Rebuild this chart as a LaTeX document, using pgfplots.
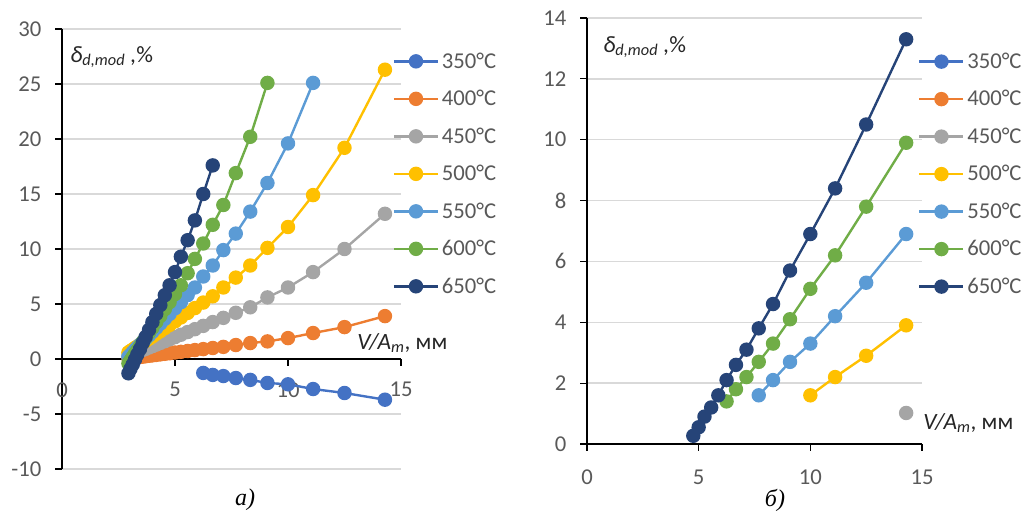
\documentclass[border=0pt]{standalone}
\usepackage{fontspec}
\setmainfont{Carlito}
\newfontfamily\capfont{Liberation Serif}
\usepackage{pgfplots}
\pgfplotsset{compat=1.18}

\definecolor{c350}{HTML}{4472C4}
\definecolor{c400}{HTML}{ED7D31}
\definecolor{c450}{HTML}{A5A5A5}
\definecolor{c500}{HTML}{FFC000}
\definecolor{c550}{HTML}{5B9BD5}
\definecolor{c600}{HTML}{70AD47}
\definecolor{c650}{HTML}{264478}
\definecolor{gridgray}{HTML}{D9D9D9}
\definecolor{textgray}{HTML}{595959}
\definecolor{labelgray}{HTML}{262626}

\pgfplotsset{
  ser/.style={line width=1.8pt, mark=*, mark size=4.5pt, mark options={solid}},
  excel/.style={
    scale only axis,
    xmin=0, xmax=15, xtick={0,5,10,15},
    axis x line*=middle, axis y line*=left,
    hide obscured x ticks=false, hide obscured y ticks=false,
    ymajorgrids, grid style={gridgray, line width=1pt},
    tick align=outside, major tick length=5pt,
    tick style={black, line width=0.9pt},
    axis line style={black, line width=1pt},
    tick label style={font=\fontsize{17}{19}\selectfont, text=textgray},
    /pgf/number format/assume math mode=true,
    yticklabel style={xshift=-7pt},
    legend cell align=left,
    legend style={draw=none, fill=none, inner sep=0pt, anchor=north west,
      font=\fontsize{17}{19}\selectfont, text=textgray, row sep=11pt,
      /tikz/every even column/.append style={column sep=1pt}},
    legend image code/.code={\draw[mark repeat=2,mark phase=2,#1]
      plot coordinates {(0pt,0pt) (16.5pt,0pt) (33pt,0pt)};},
  }
}

\begin{document}
\begin{tikzpicture}
\path[use as bounding box] (0,0) rectangle (776.25pt,390.75pt);

% а) full range
\begin{axis}[excel, at={(46.5pt,39pt)}, anchor=south west,
  width=254.25pt, height=330pt,
  ymin=-10, ymax=30, ytick={-10,-5,...,30},
  xticklabel style={yshift=-9pt},
  legend style={at={(0.975,0.953)}}]
\addplot[ser,c350] coordinates {(6.25,-1.27)(6.67,-1.45)(7.14,-1.55)(7.69,-1.73)(8.33,-1.9)(9.09,-2.18)(10,-2.3)(11.11,-2.73)(12.5,-3.09)(14.29,-3.7)};
\addlegendentry{350°C}
\addplot[ser,c400] coordinates {(2.94,0.05)(3.03,0.07)(3.13,0.1)(3.23,0.13)(3.33,0.15)(3.45,0.18)(3.57,0.21)(3.70,0.25)(3.85,0.29)(4.00,0.33)(4.17,0.37)(4.35,0.42)(4.55,0.47)(4.76,0.52)(5.00,0.59)(5.26,0.65)(5.56,0.73)(5.88,0.81)(6.25,0.9)(6.67,1.0)(7.14,1.1)(7.69,1.27)(8.33,1.45)(9.09,1.6)(10,1.9)(11.11,2.36)(12.5,2.9)(14.29,3.9)};
\addlegendentry{400°C}
\addplot[ser,c450] coordinates {(2.94,0.3)(3.03,0.37)(3.13,0.46)(3.23,0.54)(3.33,0.62)(3.45,0.72)(3.57,0.82)(3.70,0.92)(3.85,1.05)(4.00,1.17)(4.17,1.31)(4.35,1.46)(4.55,1.62)(4.76,1.79)(5.00,1.99)(5.26,2.2)(5.56,2.45)(5.88,2.71)(6.25,3.01)(6.67,3.36)(7.14,3.74)(7.69,4.2)(8.33,4.7)(9.09,5.6)(10,6.5)(11.11,7.9)(12.5,10.0)(14.29,13.2)};
\addlegendentry{450°C}
\addplot[ser,c500] coordinates {(2.94,0.6)(3.03,0.72)(3.13,0.86)(3.23,1.0)(3.33,1.13)(3.45,1.3)(3.57,1.46)(3.70,1.64)(3.85,1.85)(4.00,2.05)(4.17,2.29)(4.35,2.53)(4.55,2.81)(4.76,3.09)(5.00,3.42)(5.26,3.78)(5.56,4.19)(5.88,4.63)(6.25,5.13)(6.67,5.7)(7.14,6.5)(7.69,7.4)(8.33,8.5)(9.09,10.1)(10,12.0)(11.11,14.9)(12.5,19.2)(14.29,26.3)};
\addlegendentry{500°C}
\addplot[ser,c550] coordinates {(2.94,0.2)(3.03,0.39)(3.13,0.61)(3.23,0.82)(3.33,1.03)(3.45,1.29)(3.57,1.55)(3.70,1.83)(3.85,2.15)(4.00,2.47)(4.17,2.83)(4.35,3.22)(4.55,3.65)(4.76,4.09)(5.00,4.61)(5.26,5.16)(5.56,5.81)(5.88,6.5)(6.25,7.5)(6.67,8.5)(7.14,9.9)(7.69,11.4)(8.33,13.4)(9.09,16.0)(10,19.6)(11.11,25.1)};
\addlegendentry{550°C}
\addplot[ser,c600] coordinates {(2.94,-0.4)(3.03,-0.12)(3.13,0.18)(3.23,0.49)(3.33,0.79)(3.45,1.16)(3.57,1.53)(3.70,1.93)(3.85,2.38)(4.00,2.84)(4.17,3.36)(4.35,3.91)(4.55,4.53)(4.76,5.17)(5.00,5.9)(5.26,6.7)(5.56,7.8)(5.88,9.1)(6.25,10.5)(6.67,12.2)(7.14,14.0)(7.69,16.9)(8.33,20.2)(9.09,25.1)};
\addlegendentry{600°C}
\addplot[ser,c650] coordinates {(2.94,-1.3)(3.03,-0.9)(3.13,-0.5)(3.23,-0.05)(3.33,0.4)(3.45,0.9)(3.57,1.45)(3.70,2.0)(3.85,2.65)(4.00,3.35)(4.17,4.1)(4.35,4.9)(4.55,5.8)(4.76,6.7)(5.00,7.9)(5.26,9.3)(5.56,10.8)(5.88,12.6)(6.25,15.0)(6.67,17.6)};
\addlegendentry{650°C}
\end{axis}

% б) zoomed range
\begin{axis}[excel, at={(440.25pt,57.75pt)}, anchor=south west,
  width=251.25pt, height=319.5pt,
  ymin=0, ymax=14, ytick={0,2,...,14},
  xticklabel style={yshift=-11pt},
  legend style={at={(0.988,0.925)}}]
\addlegendimage{ser,c350}
\addlegendentry{350°C}
\addlegendimage{ser,c400}
\addlegendentry{400°C}
\addplot[ser,c450] coordinates {(14.29,1.02)};
\addlegendentry{450°C}
\addplot[ser,c500] coordinates {(10,1.6)(11.11,2.2)(12.5,2.9)(14.29,3.9)};
\addlegendentry{500°C}
\addplot[ser,c550] coordinates {(7.69,1.6)(8.33,2.1)(9.09,2.7)(10,3.3)(11.11,4.2)(12.5,5.3)(14.29,6.9)};
\addlegendentry{550°C}
\addplot[ser,c600] coordinates {(6.25,1.4)(6.67,1.8)(7.14,2.2)(7.69,2.7)(8.33,3.3)(9.09,4.1)(10,5.1)(11.11,6.2)(12.5,7.8)(14.29,9.9)};
\addlegendentry{600°C}
\addplot[ser,c650] coordinates {(4.76,0.27)(5,0.55)(5.26,0.9)(5.56,1.2)(5.88,1.6)(6.25,2.1)(6.67,2.6)(7.14,3.1)(7.69,3.8)(8.33,4.6)(9.09,5.7)(10,6.9)(11.11,8.4)(12.5,10.5)(14.29,13.3)};
\addlegendentry{650°C}
\end{axis}

\begin{scope}[every node/.style={text=labelgray, inner sep=0pt}]
\node[anchor=west, font=\fontsize{17.5}{19}\selectfont] at (52.5pt,348pt) {{\itshape δ\textsubscript{d,mod} ,}\%};
\node[anchor=west, font=\fontsize{17.5}{19}\selectfont] at (452.25pt,355.5pt) {{\itshape δ\textsubscript{d,mod} ,}\%};
\node[anchor=west, font=\fontsize{17.5}{19}\selectfont] at (267.75pt,133.5pt) {{\itshape V/A\textsubscript{m}}, мм};
\node[anchor=west, font=\fontsize{17.5}{19}\selectfont] at (692.25pt,73.5pt) {{\itshape V/A\textsubscript{m}}, мм};
\node[font=\fontsize{18}{20}\selectfont\capfont\itshape, text=black] at (183.75pt,15.75pt) {а)};
\node[font=\fontsize{18}{20}\selectfont\capfont\itshape, text=black] at (581.25pt,15.75pt) {б)};
\end{scope}
\end{tikzpicture}
\end{document}
